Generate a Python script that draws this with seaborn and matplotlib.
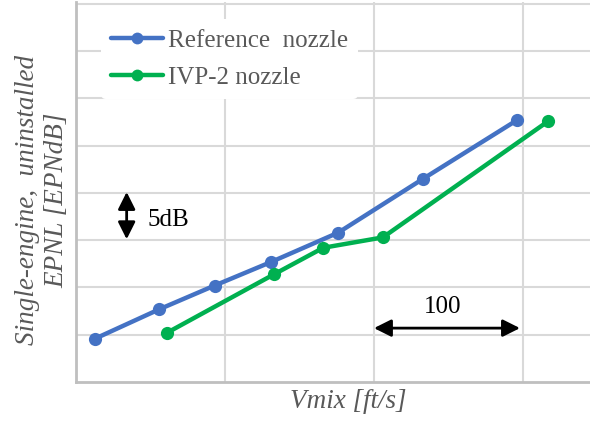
"""Jet noise: EPNL vs mixed jet velocity, reference vs IVP-2 nozzle."""

import matplotlib
matplotlib.use("Agg")
import matplotlib.pyplot as plt
from matplotlib.lines import Line2D
import pandas as pd
import seaborn as sns

# data (axis has no tick labels; 1 grid = 100 ft/s, 5 dB)
ref_vmix = [1113, 1156, 1193, 1231, 1276, 1333, 1396]
ref_epnl = [84.6, 87.7, 90.2, 92.7, 95.8, 101.5, 107.7]
ivp_vmix = [1161, 1233, 1266, 1306, 1417]
ivp_epnl = [85.2, 91.4, 94.2, 95.3, 107.6]
series_names = ["Reference  nozzle", "IVP-2 nozzle"]
colors = ["#4472C4", "#00B050"]

df = pd.DataFrame({
    "Vmix": ref_vmix + ivp_vmix,
    "EPNL": ref_epnl + ivp_epnl,
    "Nozzle": [series_names[0]] * len(ref_vmix) + [series_names[1]] * len(ivp_vmix),
})

sns.set_theme(style="whitegrid")
plt.rcParams["font.family"] = ["Liberation Serif", "DejaVu Serif"]

fig = plt.figure(figsize=(5.9, 4.21), dpi=100)
ax = fig.add_axes([76 / 590, 39 / 421, 1 - 76 / 590, 380 / 421])

sns.lineplot(
    data=df, x="Vmix", y="EPNL", hue="Nozzle", hue_order=series_names,
    palette=colors, sort=False, marker="o", markersize=9.5,
    markeredgewidth=0, linewidth=3.2, legend=False, ax=ax,
)

ax.set_xlim(1100, 1445)
ax.set_ylim(80, 120.2)
ax.set_xticks([1200, 1300, 1400])
ax.set_yticks([85, 90, 95, 100, 105, 110, 115, 120])
ax.tick_params(length=0, labelleft=False, labelbottom=False)
ax.grid(True, color="#d9d9d9", linewidth=1.5)
for side in ["top", "right"]:
    ax.spines[side].set_visible(False)
for side in ["left", "bottom"]:
    ax.spines[side].set_color("#bfbfbf")
    ax.spines[side].set_linewidth(2)

ax.set_xlabel("")
ax.set_ylabel("")
fig.text(348 / 590, 1 - 402 / 421, "Vmix [ft/s]", style="italic", fontsize=19.5,
         color="#595959", ha="center", va="center")
fig.text(42 / 590, 1 - 200 / 421, "Single-engine,  uninstalled\nEPNL [EPNdB]",
         style="italic", fontsize=19.5, color="#595959", rotation=90,
         ha="center", va="center", multialignment="center", linespacing=1.25)

# scale arrows
arrow = dict(arrowstyle="<|-|>", color="black", lw=2, mutation_scale=26,
             shrinkA=0, shrinkB=0)
ax.annotate("", xy=(1398, 85.7), xytext=(1300, 85.7), arrowprops=arrow)
ax.text(1346, 87.9, "100", fontsize=18, ha="center", va="center", color="black")
ax.annotate("", xy=(1134, 100.1), xytext=(1134, 95.1), arrowprops=arrow)
ax.text(1148, 97.1, "5dB", fontsize=18, ha="left", va="center", color="black")

handles = [Line2D([], [], color=c, lw=3.2, marker="o", markersize=8.5,
                  markeredgewidth=0) for c in colors]
leg = ax.legend(handles, series_names, loc="upper left",
                bbox_to_anchor=(0.048, 0.955), borderaxespad=0, fontsize=18,
                frameon=True, facecolor="white", edgecolor="none", framealpha=1,
                handlelength=2.1, handletextpad=0.2, labelspacing=0.58,
                borderpad=0.4)
for t in leg.get_texts():
    t.set_color("#595959")

fig.savefig("out.png", dpi=100)
